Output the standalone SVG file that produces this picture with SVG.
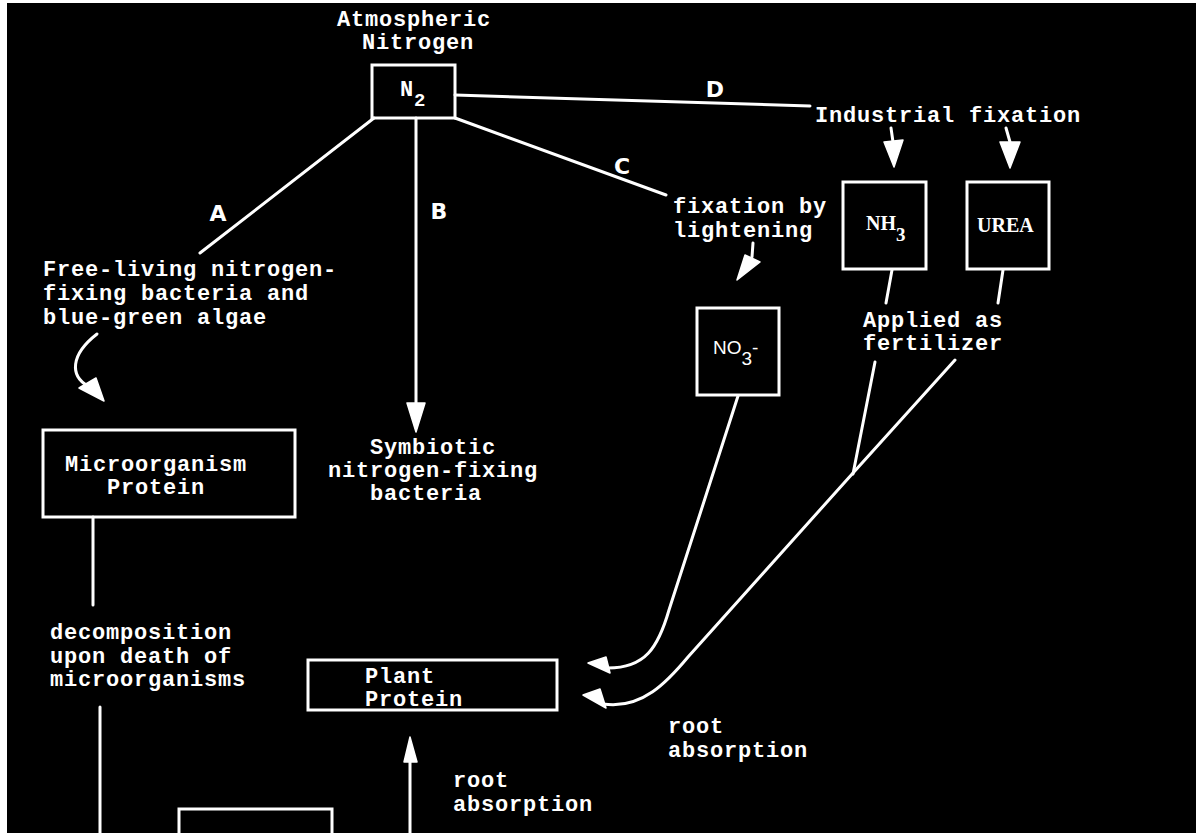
<svg xmlns="http://www.w3.org/2000/svg" width="1196" height="833" viewBox="0 0 1196 833">
<style>
.t{font-family:"Liberation Mono","DejaVu Sans Mono",monospace;font-size:22px;font-weight:bold;fill:#fff;letter-spacing:0.8px}
.lbl{font-family:"DejaVu Sans","Liberation Sans",sans-serif;font-size:22px;font-weight:bold;fill:#fff}
.box{fill:none;stroke:#fff;stroke-width:3}
.ln{fill:none;stroke:#fff;stroke-width:3;stroke-linecap:round}
.hd{fill:#fff;stroke:#fff;stroke-width:1.5;stroke-linejoin:round}
.sf{font-family:"Liberation Serif","DejaVu Serif",serif;font-size:20px;font-weight:bold;fill:#fff}
.ss{font-family:"Liberation Sans","DejaVu Sans",sans-serif;font-size:19px;fill:#fff}
</style>
<rect x="0" y="0" width="1196" height="833" fill="#fff"/>
<rect x="7" y="3" width="1189" height="830" fill="#000"/>

<g id="connectors">
  <!-- D -->
  <line class="ln" x1="455" y1="95" x2="810" y2="106"/>
  <!-- C -->
  <line class="ln" x1="455" y1="118" x2="666" y2="195"/>
  <!-- A -->
  <line class="ln" x1="374" y1="118" x2="200" y2="253"/>
  <!-- B -->
  <line class="ln" x1="416" y1="118" x2="416" y2="405"/>
  <polygon class="hd" points="407,403 425,403 416,432"/>
  <!-- industrial arrows -->
  <line class="ln" x1="891" y1="128" x2="893" y2="142"/>
  <polygon class="hd" points="884,142 903,140 894,167"/>
  <line class="ln" x1="1006" y1="128" x2="1010" y2="142"/>
  <polygon class="hd" points="1000,142 1020,142 1010,168"/>
  <!-- lightening arrow -->
  <line class="ln" x1="753" y1="243" x2="752" y2="257"/>
  <polygon class="hd" points="745,255 760,262 737,280"/>
  <!-- free-living curved arrow -->
  <path class="ln" d="M97,334 C70,355 70,376 88,386"/>
  <polygon class="hd" points="79,388 96,378 104,401"/>
  <!-- microorganism to decomposition -->
  <line class="ln" x1="93" y1="517" x2="93" y2="605"/>
  <line class="ln" x1="100" y1="707" x2="100" y2="833"/>
  <!-- root absorption arrow up -->
  <line class="ln" x1="410" y1="760" x2="410" y2="833"/>
  <polygon class="hd" points="404,762 417,762 410,737"/>
  <!-- NH3 / UREA fertilizer lines -->
  <line class="ln" x1="892" y1="270" x2="886" y2="303"/>
  <line class="ln" x1="1003" y1="270" x2="998" y2="303"/>
  <line class="ln" x1="875" y1="362" x2="853" y2="474"/>
  <path class="ln" d="M955,360 L853,473 L688,657 C668,681 642,710 603,704"/>
  <polygon class="hd" points="583,695 600,689 606,708"/>
  <!-- NO3 to plant protein -->
  <path class="ln" d="M738,396 L669,610 C658,648 645,668 608,668"/>
  <polygon class="hd" points="588,663 606,657 610,673"/>
</g>

<g id="labels">
  <text class="lbl" x="218" y="221" text-anchor="middle">A</text>
  <text class="lbl" x="439" y="219" text-anchor="middle">B</text>
  <text class="lbl" x="622" y="174" text-anchor="middle">C</text>
  <text class="lbl" x="715" y="97" text-anchor="middle">D</text>
</g>

<g id="atmospheric-nitrogen">
  <text class="t" x="414" y="26" text-anchor="middle">Atmospheric</text>
  <text class="t" x="418" y="49" text-anchor="middle">Nitrogen</text>
  <rect class="box" x="372" y="65" width="83" height="53"/>
  <text class="t" x="400" y="96">N<tspan font-size="19" dy="10">2</tspan></text>
</g>

<g id="industrial-fixation">
  <text class="t" x="815" y="122" letter-spacing="0.4">Industrial fixation</text>
</g>

<g id="nh3">
  <rect class="box" x="843" y="182" width="83" height="87"/>
  <text class="sf" x="866" y="230">NH<tspan font-size="19" dy="11">3</tspan></text>
</g>

<g id="urea">
  <rect class="box" x="967" y="182" width="82" height="87"/>
  <text class="sf" x="977" y="232">UREA</text>
</g>

<g id="lightening">
  <text class="t" x="673" y="213">fixation by</text>
  <text class="t" x="673" y="237">lightening</text>
</g>

<g id="free-living">
  <text class="t" x="43" y="276">Free-living nitrogen-</text>
  <text class="t" x="43" y="300">fixing bacteria and</text>
  <text class="t" x="43" y="324">blue-green algae</text>
</g>

<g id="no3">
  <rect class="box" x="697" y="308" width="82" height="87"/>
  <text class="ss" x="713" y="354">NO<tspan font-size="19" dy="11">3</tspan><tspan dy="-11">-</tspan></text>
</g>

<g id="applied-fertilizer">
  <text class="t" x="863" y="327">Applied as</text>
  <text class="t" x="863" y="350">fertilizer</text>
</g>

<g id="microorganism-protein">
  <rect class="box" x="43" y="430" width="252" height="87"/>
  <text class="t" x="156" y="471" text-anchor="middle">Microorganism</text>
  <text class="t" x="156" y="494" text-anchor="middle">Protein</text>
</g>

<g id="symbiotic">
  <text class="t" x="433" y="454" text-anchor="middle">Symbiotic</text>
  <text class="t" x="433" y="477" text-anchor="middle">nitrogen-fixing</text>
  <text class="t" x="426" y="500" text-anchor="middle">bacteria</text>
</g>

<g id="decomposition">
  <text class="t" x="50" y="639">decomposition</text>
  <text class="t" x="50" y="663">upon death of</text>
  <text class="t" x="50" y="686">microorganisms</text>
</g>

<g id="plant-protein">
  <rect class="box" x="308" y="660" width="249" height="50"/>
  <text class="t" x="365" y="683">Plant</text>
  <text class="t" x="365" y="706">Protein</text>
</g>

<g id="root-absorption-1">
  <text class="t" x="668" y="733">root</text>
  <text class="t" x="668" y="757">absorption</text>
</g>

<g id="root-absorption-2">
  <text class="t" x="453" y="787">root</text>
  <text class="t" x="453" y="811">absorption</text>
</g>

<g id="bottom-box">
  <path class="box" d="M179,833 L179,809 L332,809 L332,833"/>
</g>
</svg>
